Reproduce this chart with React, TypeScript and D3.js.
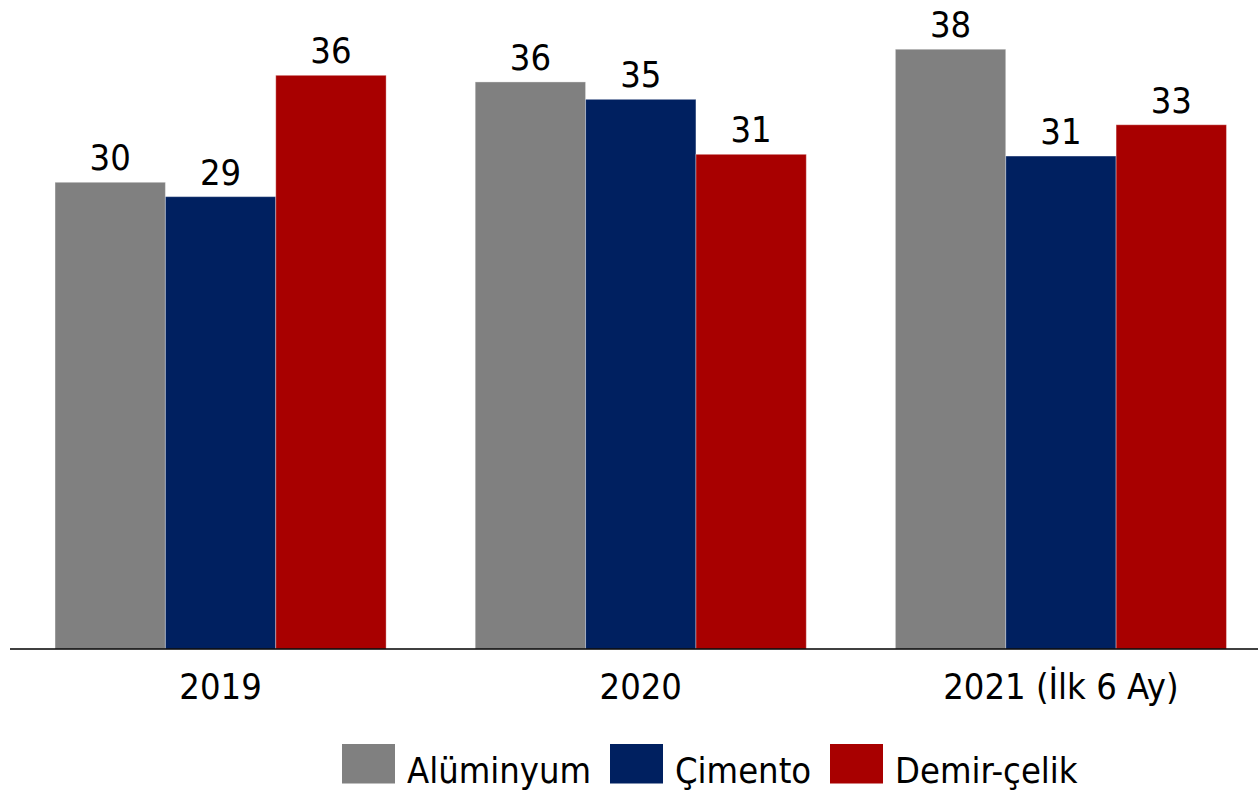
import React from "react";
import * as d3 from "d3";

const categories = ["2019", "2020", "2021 (İlk 6 Ay)"];
const seriesNames = ["Alüminyum", "Çimento", "Demir-çelik"];
const seriesColors = ["#808080", "#002060", "#A80000"];
const aluminyum = [29.54, 35.89, 37.96];
const cimento = [28.63, 34.79, 31.2];
const demirCelik = [36.31, 31.31, 33.18];
const seriesValues = [aluminyum, cimento, demirCelik];

const W = 1258;
const H = 790;
const FONT = "'DejaVu Sans Condensed', 'DejaVu Sans', sans-serif";
const FS = 36;

export default function App() {
  const x0 = d3
    .scaleBand<string>()
    .domain(categories)
    .range([10.5, 1271])
    .paddingInner(0.212)
    .paddingOuter(0.106);
  const x1 = d3
    .scaleBand<string>()
    .domain(seriesNames)
    .range([0, x0.bandwidth()]);
  const y = d3.scaleLinear().domain([0, 40]).range([649, 17]);

  const legendStarts = [342, 610, 830];

  return (
    <svg
      width={W}
      height={H}
      style={{ position: "absolute", left: 0, top: 0, background: "#fff" }}
      fontFamily={FONT}
    >
      {categories.map((c, ci) => (
        <g key={c} transform={`translate(${x0(c)},0)`}>
          {seriesNames.map((s, si) => {
            const v = seriesValues[si][ci];
            const bx = x1(s)!;
            return (
              <g key={s}>
                <rect
                  x={bx}
                  y={y(v)}
                  width={x1.bandwidth()}
                  height={y(0) - y(v)}
                  fill={seriesColors[si]}
                  stroke="rgba(255,255,255,0.35)"
                  strokeWidth={1}
                />
                <text
                  x={bx + x1.bandwidth() / 2}
                  y={y(v) - 12}
                  textAnchor="middle"
                  fontSize={FS}
                  fill="#000"
                >
                  {Math.round(v)}
                </text>
              </g>
            );
          })}
          <text
            x={x0.bandwidth() / 2}
            y={699}
            textAnchor="middle"
            fontSize={FS}
            fill="#000"
          >
            {c}
          </text>
        </g>
      ))}
      <line x1={10} x2={W} y1={y(0)} y2={y(0)} stroke="#000" strokeWidth={1.5} />
      {seriesNames.map((s, si) => (
        <g key={s} transform={`translate(${legendStarts[si]},744)`}>
          <rect width={53} height={39.5} fill={seriesColors[si]} />
          <text x={65} y={39} fontSize={FS} fill="#000">
            {s}
          </text>
        </g>
      ))}
    </svg>
  );
}
